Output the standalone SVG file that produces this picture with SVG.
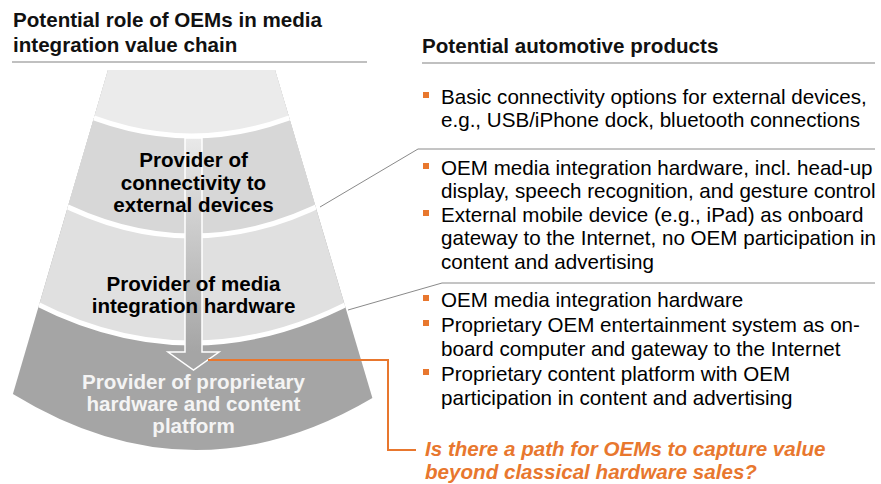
<svg xmlns="http://www.w3.org/2000/svg" width="881" height="484" viewBox="0 0 881 484">
<defs>
<style>
text{font-family:"Liberation Sans",Arial,sans-serif;font-size:20.6px}
.h{font-weight:bold;fill:#111}
.b{fill:#000}
.f{font-weight:bold;fill:#000;text-anchor:middle}
.fw{font-weight:bold;fill:#f4f4f4;text-anchor:middle}
.q{font-weight:bold;font-style:italic;fill:#e8772e}
.sq{fill:#e8772e}
.rule{stroke:#c0c0c0;stroke-width:2}
.sep{fill:none;stroke:#fff;stroke-width:5}
.gl{fill:none;stroke:#8a8a8a;stroke-width:1}
.ol{fill:none;stroke:#e8772e;stroke-width:2}
</style>
<clipPath id="fc"><path d="M108,70 L275,70 L372.4,398 Q192.6,504 12.9,394 Z"/></clipPath>
<linearGradient id="ag" gradientUnits="userSpaceOnUse" x1="0" y1="138" x2="0" y2="352">
<stop offset="0" stop-color="#e9e9e9"/><stop offset="1" stop-color="#a5a5a5"/>
</linearGradient>
</defs>
<rect width="881" height="484" fill="#fff"/>

<g id="headings">
<text class="h" x="13" y="27">Potential role of OEMs in media</text>
<text class="h" x="13" y="52">integration value chain</text>
<line class="rule" x1="12" y1="62" x2="367" y2="62"/>
<text class="h" x="422" y="53">Potential automotive products</text>
<line class="rule" x1="422" y1="63" x2="875" y2="63"/>
</g>

<g id="funnel" clip-path="url(#fc)">
<rect x="0" y="60" width="400" height="400" fill="#a5a5a5"/>
<path d="M9,60 L375,60 L375,288.6 Q192,397.4 9,288.6 Z" fill="#e0e0e0"/>
<path d="M38,60 L346,60 L346,191.3 Q192,280.7 38,191.3 Z" fill="#d7d7d7"/>
<path d="M63.6,60 L319.6,60 L319.6,105.1 Q191.6,166.9 63.6,105.1 Z" fill="#ebebeb"/>
<path class="sep" d="M63.6,105.1 Q191.6,166.9 319.6,105.1"/>
<path class="sep" d="M38,191.3 Q192,280.7 346,191.3"/>
<path class="sep" d="M9,288.6 Q192,397.4 375,288.6"/>
</g>

<g id="arrow">
<path d="M185,138 L202,138 L202,352 L219,352 L193.5,370 L168,352 L185,352 Z" fill="url(#ag)" stroke="#fff" stroke-width="1.5" stroke-linejoin="miter"/>
</g>

<g id="role-connectivity">
<text class="f" x="193.5" y="167">Provider of</text>
<text class="f" x="193.5" y="190">connectivity to</text>
<text class="f" x="193.5" y="212">external devices</text>
</g>
<g id="role-hardware">
<text class="f" x="193.5" y="291">Provider of media</text>
<text class="f" x="193.5" y="313">integration hardware</text>
</g>
<g id="role-platform">
<text class="fw" x="193.5" y="389">Provider of proprietary</text>
<text class="fw" x="193.5" y="411">hardware and content</text>
<text class="fw" x="193.5" y="433">platform</text>
</g>

<g id="connectors">
<polyline class="gl" points="320,207 418,149 875,149"/>
<polyline class="gl" points="348,310 442,283 875,283"/>
<polyline class="ol" points="208,360 388,360 388,450 416,450"/>
</g>

<g id="products-basic">
<rect class="sq" x="423" y="92" width="6" height="6"/>
<text class="b" x="441" y="104">Basic connectivity options for external devices,</text>
<text class="b" x="441" y="127">e.g., USB/iPhone dock, bluetooth connections</text>
</g>
<g id="products-media">
<rect class="sq" x="423" y="163" width="6" height="6"/>
<text class="b" x="441" y="175">OEM media integration hardware, incl. head-up</text>
<text class="b" x="441" y="198">display, speech recognition, and gesture control</text>
<rect class="sq" x="423" y="210" width="6" height="6"/>
<text class="b" x="441" y="222">External mobile device (e.g., iPad) as onboard</text>
<text class="b" x="441" y="245">gateway to the Internet, no OEM participation in</text>
<text class="b" x="441" y="269">content and advertising</text>
</g>
<g id="products-platform">
<rect class="sq" x="423" y="295" width="6" height="6"/>
<text class="b" x="441" y="307">OEM media integration hardware</text>
<rect class="sq" x="423" y="320" width="6" height="6"/>
<text class="b" x="441" y="332">Proprietary OEM entertainment system as on-</text>
<text class="b" x="441" y="356">board computer and gateway to the Internet</text>
<rect class="sq" x="423" y="369" width="6" height="6"/>
<text class="b" x="441" y="381">Proprietary content platform with OEM</text>
<text class="b" x="441" y="405">participation in content and advertising</text>
</g>

<g id="question">
<text class="q" x="425" y="456">Is there a path for OEMs to capture value</text>
<text class="q" x="425" y="479">beyond classical hardware sales?</text>
</g>
</svg>
